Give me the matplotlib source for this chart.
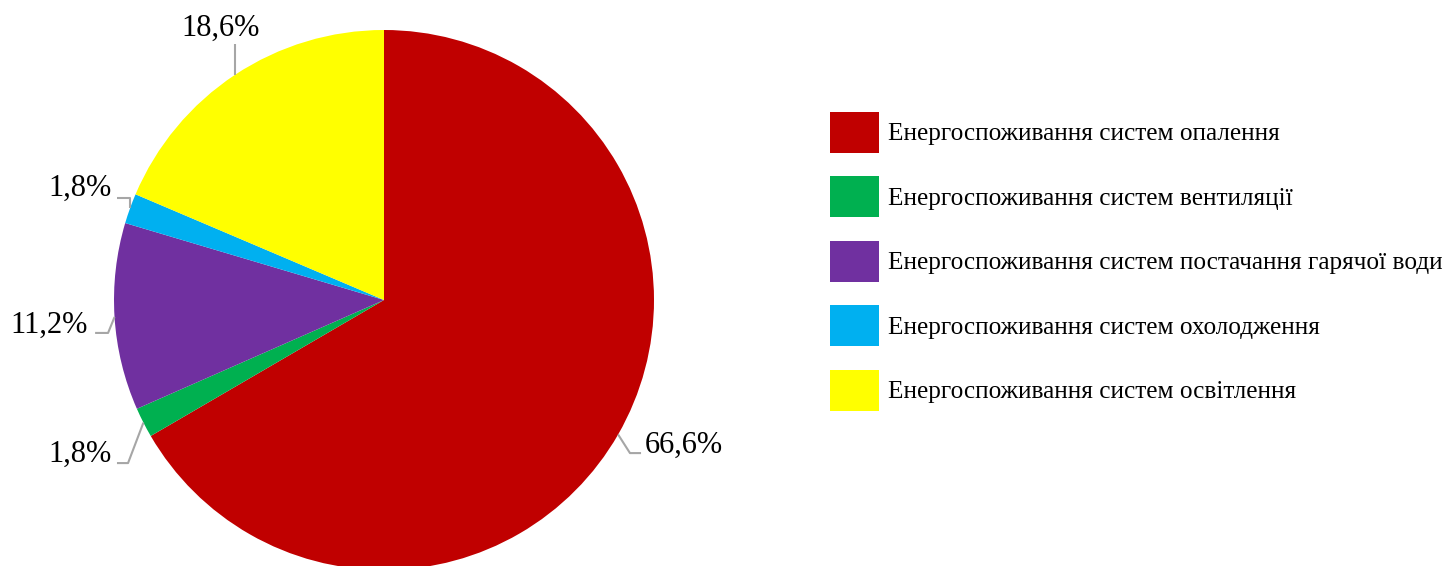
import matplotlib
matplotlib.use('Agg')
import matplotlib.pyplot as plt

labels = ['Енергоспоживання систем опалення',
          'Енергоспоживання систем вентиляції',
          'Енергоспоживання систем постачання гарячої води',
          'Енергоспоживання систем охолодження',
          'Енергоспоживання систем освітлення']
values = [66.6, 1.8, 11.2, 1.8, 18.6]
pct_text = ['66,6%', '1,8%', '11,2%', '1,8%', '18,6%']
colors = ['#C00000', '#00B050', '#7030A0', '#00B0F0', '#FFFF00']

plt.rcParams['font.family'] = ['Liberation Serif', 'DejaVu Serif']

fig = plt.figure(figsize=(14.48, 5.66), dpi=100)
# pie axes: centre (384, 300) px, radius 270 px
ax = fig.add_axes([114 / 1448, -4 / 566, 540 / 1448, 540 / 566])
wedges, _ = ax.pie(values, colors=colors, startangle=90, counterclock=False,
                   radius=1.0, wedgeprops=dict(linewidth=0))
ax.set_xlim(-1, 1)
ax.set_ylim(-1, 1)
ax.set_aspect('equal')
ax.axis('off')

# leader lines (layout): start on wedge edge, elbow, end; text position and alignment
leaders = [
    [(0.867, -0.498), (0.911, -0.567), (0.952, -0.567)],
    [(-0.891, -0.454), (-0.948, -0.604), (-0.989, -0.604)],
    [(-0.998, -0.063), (-1.022, -0.122), (-1.070, -0.122)],
    [(-0.941, 0.339), (-0.941, 0.378), (-0.989, 0.378)],
    [(-0.552, 0.834), (-0.552, 0.948), (-0.552, 0.948)],
]
text_pos = [(0.965, -0.538, 'left'), (-1.007, -0.572, 'right'),
            (-1.096, -0.094, 'right'), (-1.007, 0.414, 'right'),
            (-0.607, 1.008, 'center')]
for pts, (tx, ty, ha), t in zip(leaders, text_pos, pct_text):
    xs = [p[0] for p in pts]
    ys = [p[1] for p in pts]
    ax.plot(xs, ys, color='#A6A6A6', lw=1.5, clip_on=False, solid_capstyle='butt')
    ax.text(tx, ty, t, ha=ha, va='center', fontsize=22, color='black', clip_on=False)

fig.legend(wedges, labels, loc='upper left', bbox_to_anchor=(830 / 1448, 1 - 112 / 566),
           frameon=False, fontsize=18.2, handlelength=1.94, handleheight=2.12,
           labelspacing=0.925, handletextpad=0.36, borderpad=0, borderaxespad=0)

fig.savefig('out.png', dpi=100)
